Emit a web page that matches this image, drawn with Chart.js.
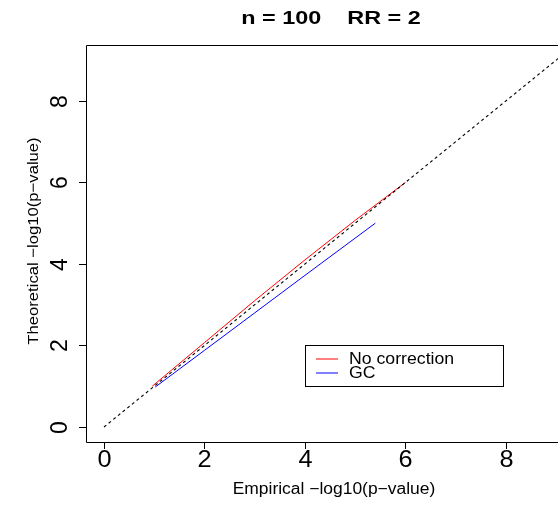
<!DOCTYPE html>
<html>
<head>
<meta charset="utf-8">
<script src="https://cdn.jsdelivr.net/npm/chart.js@4"></script>
<style>
  html, body { margin: 0; padding: 0; background: #fff; overflow: hidden; }
  #wrap { width: 558px; height: 505px; }
</style>
</head>
<body>
<div id="wrap"><canvas id="qq"></canvas></div>
<script>
// values
const noCorrX = [0.96, 2.0, 3.0, 4.0, 5.0, 6.0];
const noCorrY = [1.0, 2.07, 3.1, 4.1, 5.07, 6.0];
const gcX = [1.02, 2.0, 3.0, 4.0, 5.4];
const gcY = [0.98, 1.88, 2.8, 3.72, 5.0];
const refX = [0, 9.4];
const refY = [0, 9.4];
const xTicks = [0, 2, 4, 6, 8];
const yTicks = [0, 2, 4, 6, 8];

const titleText = "n = 100    RR = 2";
const xLabel = "Empirical \u2212log10(p\u2212value)";
const yLabel = "Theoretical \u2212log10(p\u2212value)";
const FONT = "'Liberation Sans', Arial, Helvetica, sans-serif";

const toPoints = (xs, ys) => xs.map((x, i) => ({ x: x, y: ys[i] }));

// text is a bit wider in the reference than Liberation Sans, so stretch it
function putText(ctx, str, x, y, font, stretch, rot) {
  ctx.save();
  ctx.font = font;
  ctx.translate(x, y);
  if (rot) ctx.rotate(rot);
  ctx.scale(stretch, 1);
  ctx.fillText(str, 0, 0);
  ctx.restore();
}

// R-style frame, ticks, labels and legend
const rAxes = {
  id: "rAxes",
  afterDraw(chart) {
    const ctx = chart.ctx;
    const a = chart.chartArea;
    const xs = chart.scales.x;
    const ys = chart.scales.y;
    ctx.save();
    ctx.strokeStyle = "#000";
    ctx.fillStyle = "#000";
    ctx.lineWidth = 1;

    // box (right side is off the page)
    ctx.beginPath();
    ctx.moveTo(a.right + 5, a.top + 0.5);
    ctx.lineTo(a.left + 0.5, a.top + 0.5);
    ctx.lineTo(a.left + 0.5, a.bottom + 0.5);
    ctx.lineTo(a.right + 5, a.bottom + 0.5);
    ctx.stroke();

    ctx.textAlign = "center";
    ctx.textBaseline = "middle";

    // x ticks
    xTicks.forEach((t) => {
      const px = Math.round(xs.getPixelForValue(t)) + 0.5;
      ctx.beginPath();
      ctx.moveTo(px, a.bottom);
      ctx.lineTo(px, a.bottom + 7);
      ctx.stroke();
      putText(ctx, String(t), px, a.bottom + 19, "23px " + FONT, 1.1, 0);
    });

    // y ticks, labels turned like R does
    yTicks.forEach((t) => {
      const py = Math.round(ys.getPixelForValue(t)) + 0.5;
      ctx.beginPath();
      ctx.moveTo(a.left, py);
      ctx.lineTo(a.left - 7, py);
      ctx.stroke();
      putText(ctx, String(t), a.left - 25, py, "23px " + FONT, 1.0, -Math.PI / 2);
    });

    // titles
    putText(ctx, titleText, 331, 19, "bold 18px " + FONT, 1.3, 0);
    putText(ctx, xLabel, 334, 490, "16px " + FONT, 1.09, 0);
    putText(ctx, yLabel, 34, 241, "15px " + FONT, 1.11, -Math.PI / 2);

    // legend
    const lx = 305, ly = 345, lw = 198, lh = 41;
    ctx.fillStyle = "#fff";
    ctx.fillRect(lx, ly, lw, lh);
    ctx.strokeStyle = "#000";
    ctx.strokeRect(lx + 0.5, ly + 0.5, lw, lh);
    const items = [
      { label: "No correction", color: "#ff0000", y: ly + 14 },
      { label: "GC", color: "#0000ff", y: ly + 28 }
    ];
    ctx.textAlign = "left";
    items.forEach((it) => {
      ctx.strokeStyle = it.color;
      ctx.lineWidth = 1;
      ctx.beginPath();
      ctx.moveTo(lx + 11, it.y);
      ctx.lineTo(lx + 33, it.y);
      ctx.stroke();
      ctx.fillStyle = "#000";
      putText(ctx, it.label, lx + 44, it.y, "17px " + FONT, 1.04, 0);
    });
    ctx.restore();
  }
};

new Chart(document.getElementById("qq"), {
  type: "scatter",
  data: {
    datasets: [
      {
        label: "y = x",
        data: toPoints(refX, refY),
        showLine: true,
        borderColor: "#000",
        borderWidth: 1.1,
        borderDash: [3, 3],
        pointRadius: 0
      },
      {
        label: "No correction",
        data: toPoints(noCorrX, noCorrY),
        showLine: true,
        borderColor: "#ff0000",
        borderWidth: 1,
        pointRadius: 0
      },
      {
        label: "GC",
        data: toPoints(gcX, gcY),
        showLine: true,
        borderColor: "#0000ff",
        borderWidth: 1,
        pointRadius: 0
      }
    ]
  },
  options: {
    responsive: true,
    maintainAspectRatio: false,
    animation: false,
    layout: { padding: { left: 86, top: 45, right: 0, bottom: 63 } },
    plugins: {
      legend: { display: false },
      tooltip: { enabled: false }
    },
    scales: {
      x: { type: "linear", min: -0.358, max: 9.035, display: false },
      y: { type: "linear", min: -0.368, max: 9.37, display: false }
    }
  },
  plugins: [rAxes]
});
</script>
</body>
</html>
